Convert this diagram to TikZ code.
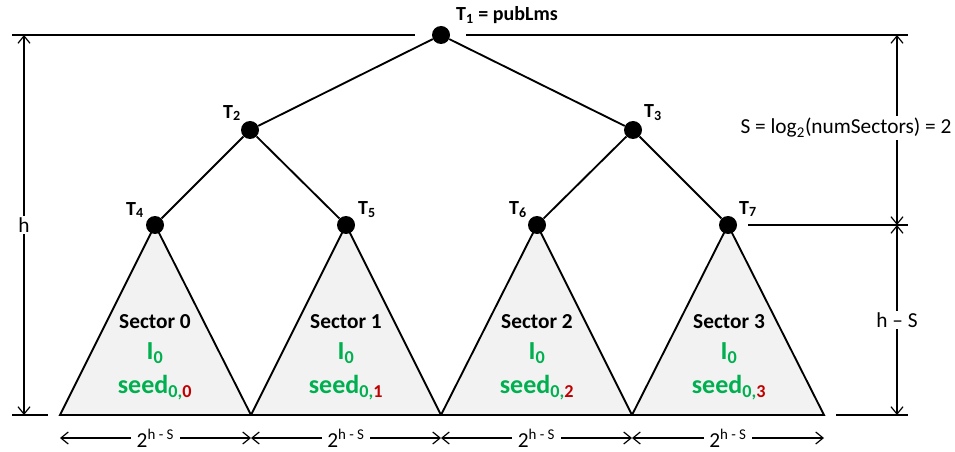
\documentclass[tikz,border=0pt]{standalone}
\usepackage{fontspec}
\setmainfont{Carlito}
\usetikzlibrary{arrows.meta}
\definecolor{sgreen}{HTML}{00B050}
\definecolor{sred}{HTML}{C00000}
\definecolor{sgrey}{HTML}{F2F2F2}
\tikzset{
  dot/.style={circle,fill=black,inner sep=0pt,minimum size=13.5pt},
  edge/.style={line width=1.4pt},
  tri/.style={line width=1.4pt,fill=sgrey,line join=miter},
  dimline/.style={line width=0.9pt,{Straight Barb[length=5.5pt,width=9pt,line width=0.9pt]}-{Straight Barb[length=5.5pt,width=9pt,line width=0.9pt]}},
  guide/.style={line width=0.9pt},
  tlab/.style={font=\fontsize{15}{17}\selectfont\bfseries,inner sep=0pt},
  sect/.style={font=\fontsize{16}{18}\selectfont\bfseries,inner sep=0pt},
  gtxt/.style={font=\fontsize{19.5}{21}\selectfont\bfseries,text=sgreen,inner sep=0pt},
  dimlab/.style={font=\fontsize{16}{18}\selectfont,fill=white,inner sep=1.5pt},
}
\begin{document}
\begin{tikzpicture}[x=0.75pt,y=-0.75pt]
\useasboundingbox (0,0) rectangle (955,452);
% base corners
\coordinate (b0) at (60,415);
\coordinate (b1) at (251,415);
\coordinate (b2) at (441,415);
\coordinate (b3) at (632,415);
\coordinate (b4) at (824,415);
% tree node positions
\coordinate (p1) at (441,35);
\coordinate (p4) at (155,225);
\coordinate (p5) at (346,225);
\coordinate (p6) at (537,225);
\coordinate (p7) at (728,225);
% triangles
\draw[tri] (b0) -- (p4) -- (b1) -- cycle;
\draw[tri] (b1) -- (p5) -- (b2) -- cycle;
\draw[tri] (b2) -- (p6) -- (b3) -- cycle;
\draw[tri] (b3) -- (p7) -- (b4) -- cycle;
% dots
\node[dot] (t1) at (p1) {};
\node[dot] (t2) at (250,130) {};
\node[dot] (t3) at (633,130) {};
\node[dot] (t4) at (p4) {};
\node[dot] (t5) at (p5) {};
\node[dot] (t6) at (p6) {};
\node[dot] (t7) at (p7) {};
% edges
\draw[edge] (t1) -- (t2);
\draw[edge] (t1) -- (t3);
\draw[edge] (t2) -- (t4);
\draw[edge] (t2) -- (t5);
\draw[edge] (t3) -- (t6);
\draw[edge] (t3) -- (t7);
% node labels
\node[tlab] (l1) at (507,15) {T\textsubscript{1} = pubLms};
\node[tlab] (l2) at (232,113) {T\textsubscript{2}};
\node[tlab] (l3) at (653,113) {T\textsubscript{3}};
\node[tlab] (l4) at (135,210) {T\textsubscript{4}};
\node[tlab] (l5) at (367,210) {T\textsubscript{5}};
\node[tlab] (l6) at (518,210) {T\textsubscript{6}};
\node[tlab] (l7) at (748,209) {T\textsubscript{7}};
% sector texts
\foreach \i/\x in {0/155,1/346,2/537,3/729}{
  \node[sect] (s\i) at (\x,322) {Sector \i};
  \node[gtxt] (i\i) at (\x,353) {I\textsubscript{0}};
  \node[gtxt] (d\i) at (\x,388) {seed\textsubscript{0,\textcolor{sred}{\i}}};
}
% guide lines
\coordinate (gl1) at (12,35);
\coordinate (gl2) at (415,35);
\coordinate (gr1) at (466,35);
\coordinate (gr2) at (908,35);
\coordinate (gb1) at (12,415);
\coordinate (gb2) at (48,415);
\coordinate (gb3) at (836,415);
\coordinate (gb4) at (908,415);
\coordinate (g71) at (748,225);
\coordinate (g72) at (908,225);
\draw[guide] (gl1) -- (gl2);
\draw[guide] (gr1) -- (gr2);
\draw[guide] (gb1) -- (gb2);
\draw[guide] (gb3) -- (gb4);
\draw[guide] (g71) -- (g72);
% dimension lines
\coordinate (hT) at (24,35);
\coordinate (hB) at (24,415);
\draw[dimline] (hT) -- (hB) node[dimlab,pos=0.5] (hl) {h};
\coordinate (rT) at (897,35);
\coordinate (rM) at (897,225);
\coordinate (rB) at (897,415);
\draw[dimline] (rT) -- (rM);
\node[dimlab] (sl) at (846,128) {S = log\textsubscript{2}(numSectors) = 2};
\draw[dimline] (rM) -- (rB) node[dimlab,pos=0.5] (hs) {h – S};
\foreach \a/\b [count=\k] in {60/251,251/441,441/632,632/824}{
  \coordinate (w\k a) at (\a,438);
  \coordinate (w\k b) at (\b,438);
  \draw[dimline] (w\k a) -- (w\k b) node[dimlab,pos=0.5,inner xsep=4pt] (wl\k) {2\textsuperscript{h - S}};
}
\end{tikzpicture}
\end{document}
